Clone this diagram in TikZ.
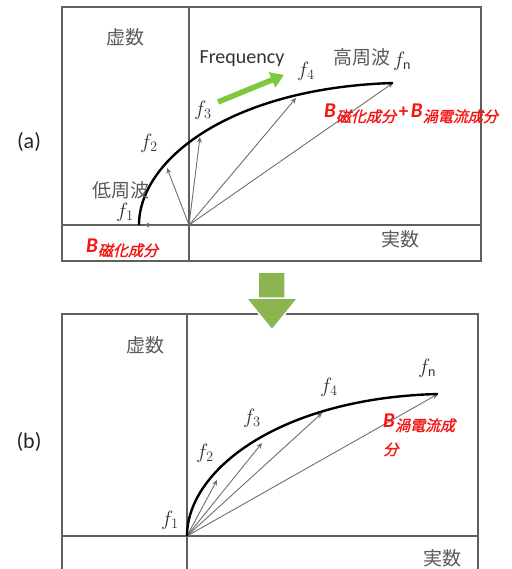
\documentclass[tikz,border=0pt]{standalone}
\usepackage{fontspec}
\setmainfont{Carlito}
\newfontfamily\jpfont{Noto Sans CJK JP}
\newfontfamily\jpslant[FakeSlant=0.25,FakeBold=1.5]{Noto Sans CJK JP}
\definecolor{axisgray}{RGB}{95,95,95}
\definecolor{vecgray}{RGB}{110,110,110}
\definecolor{labgray}{RGB}{90,90,90}
\definecolor{brightred}{RGB}{245,20,20}
\definecolor{freqgreen}{RGB}{125,200,60}
\definecolor{stepgreen}{RGB}{140,180,80}
\usetikzlibrary{arrows.meta, positioning}
\tikzset{
	frame/.style={draw=axisgray, line width=1.1pt},
	vec/.style={-{Stealth[length=5.5pt,width=5pt]}, draw=vecgray, line width=0.9pt},
	locus/.style={draw=black, line width=2.4pt},
	jplabel/.style={text=labgray, font=\jpfont\fontsize{19}{21}\selectfont, inner sep=0pt},
	flabel/.style={text=black!80, font=\fontsize{20}{22}\selectfont, inner sep=0pt},
	redlabel/.style={text=brightred, inner sep=0pt, anchor=base west},
	panellabel/.style={text=black!85, font=\fontsize{22}{24}\selectfont, inner sep=0pt},
}
\newcommand{\redB}{{\fontsize{21}{22}\selectfont\bfseries\itshape B}}
\newcommand{\redsub}[1]{\raisebox{-4pt}{\jpslant\fontsize{15}{17}\selectfont #1}}

\begin{document}
\begin{tikzpicture}[x=1pt, y=-1pt]
	\useasboundingbox (0,0) rectangle (511,569);
	% panel (a)
	\draw[frame] (62,7) rectangle (481,261);
	\draw[frame] (62,225) -- (481,225);
	\draw[frame] (189,7) -- (189,261);
	\coordinate (oa) at (189,225);
	\coordinate (a1) at (144,225);
	\coordinate (a2) at (167,168);
	\coordinate (a3) at (200,137);
	\coordinate (a4) at (296,98);
	\coordinate (an) at (393,83);
	\foreach \t in {a1,a2,a3,a4,an}{\draw[vec] (oa) -- (\t);}
	\draw[locus] (139,225) .. controls (139,160) and (230,88) .. (an);
	\node[panellabel] (la) at (29,142) {(a)};
	\node[jplabel] (imaga) at (125,37) {虚数};
	\node[jplabel] (reala) at (400,239) {実数};
	\node[jplabel] (low) at (121,190) {低周波};
	\node[jplabel] (high) at (362,57) {高周波};
	\node[flabel] (fan) at (402,61) {$f_{\mathrm{n}}$};
	\node[flabel] (fa1) at (125,212) {$f_1$};
	\node[flabel] (fa2) at (149,143) {$f_2$};
	\node[flabel] (fa3) at (203,110) {$f_3$};
	\node[flabel] (fa4) at (306,71) {$f_4$};
	\node[text=black!80, font=\fontsize{20}{22}\selectfont, inner sep=0pt] (freq) at (242,59) {Frequency};
	\coordinate (ga) at (218,102);
	\coordinate (gb) at (284,75);
	\draw[freqgreen, line width=5.5pt, -{Triangle[length=13pt,width=16pt]}] (ga) -- (gb);
	\node[redlabel] (sum) at (324,118) {\redB\redsub{磁化成分}\;{\bfseries\fontsize{19}{21}\selectfont +}\;\redB\redsub{渦電流成分}};
	\node[redlabel] (mag) at (86,252) {\redB\redsub{磁化成分}};
	% step arrow
	\filldraw[fill=stepgreen, draw=white, line width=1.5pt]
		(258,272) -- (285,272) -- (285,298) -- (298,298) -- (272,330) -- (246,298) -- (258,298) -- cycle;
	% panel (b)
	\draw[frame] (62,569.5) -- (62,314) -- (478,314) -- (478,569.5);
	\draw[frame] (62,536) -- (478,536);
	\draw[frame] (187,314) -- (187,569.5);
	\filldraw[fill=stepgreen, draw=white, line width=1.5pt]
		(258,298) -- (298,298) -- (272,330) -- (246,298) -- cycle;
	\coordinate (ob) at (187,536);
	\coordinate (b2) at (217,480);
	\coordinate (b3) at (262,443);
	\coordinate (b4) at (322,413);
	\coordinate (bn) at (438,394);
	\foreach \t in {b2,b3,b4,bn}{\draw[vec] (ob) -- (\t);}
	\draw[locus] (ob) .. controls (187,470) and (280,398) .. (bn);
	\node[panellabel] (lb) at (29,442) {(b)};
	\node[jplabel] (imagb) at (145,345) {虚数};
	\node[jplabel] (realb) at (442,558) {実数};
	\node[flabel] (fb1) at (170,520) {$f_1$};
	\node[flabel] (fb2) at (205,453) {$f_2$};
	\node[flabel] (fb3) at (252,418) {$f_3$};
	\node[flabel] (fb4) at (329,387) {$f_4$};
	\node[flabel] (fbn) at (427,368) {$f_{\mathrm{n}}$};
	\node[redlabel] (eddy) at (383,427) {\redB\redsub{渦電流成}};
	\node[redlabel] (eddyb) at (383,455) {\jpslant\fontsize{15}{17}\selectfont 分};
\end{tikzpicture}
\end{document}
